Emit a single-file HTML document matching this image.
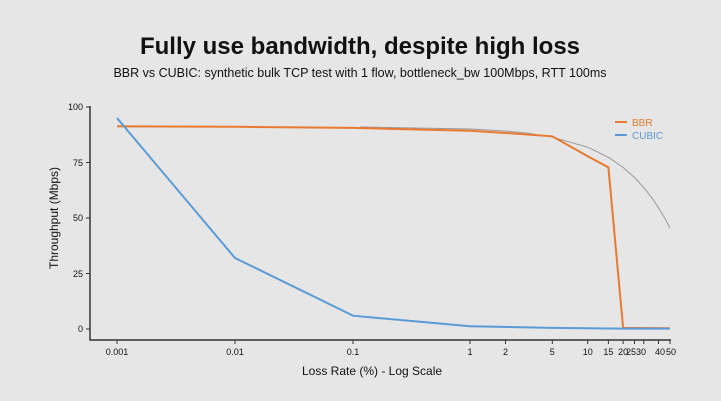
<!DOCTYPE html><html><head><style>
body{margin:0;background:#e6e6e6;}
svg{display:block;font-family:"Liberation Sans",sans-serif;}
</style></head><body>
<svg width="721" height="401" viewBox="0 0 721 401">
<rect width="721" height="401" fill="#e6e6e6"/>
<text x="360" y="54" text-anchor="middle" font-size="24" font-weight="bold" fill="#111">Fully use bandwidth, despite high loss</text>
<text x="360" y="77" text-anchor="middle" font-size="12.5" fill="#111">BBR vs CUBIC: synthetic bulk TCP test with 1 flow, bottleneck_bw 100Mbps, RTT 100ms</text>
<g stroke="#333" stroke-width="1.5" fill="none">
<path d="M90,106 V340 H671"/>
</g>
<g stroke="#333" stroke-width="1">
<path d="M86,107H90M86,162.5H90M86,218H90M86,273.5H90M86,329H90"/>
<path d="M117,340v4M235,340v4M353,340v4M470,340v4M505.5,340v4M552.3,340v4M587.7,340v4M608.4,340v4M623.1,340v4M634.5,340v4M643.8,340v4M658.5,340v4M670,340v4"/>
</g>
<g font-size="9" fill="#111" text-anchor="end">
<text x="83" y="110">100</text><text x="83" y="166">75</text><text x="83" y="221">50</text><text x="83" y="277">25</text><text x="83" y="332">0</text>
</g>
<g font-size="9" fill="#111" text-anchor="middle">
<text x="117" y="355">0.001</text><text x="235" y="355">0.01</text><text x="353" y="355">0.1</text><text x="470" y="355">1</text><text x="505.5" y="355">2</text><text x="552.3" y="355">5</text><text x="587.7" y="355">10</text><text x="608.4" y="355">15</text><text x="623.1" y="355">20</text><text x="636" y="355">2530</text><text x="660" y="355">40</text><text x="671" y="355">50</text>
</g>
<text x="372" y="375" text-anchor="middle" font-size="12" fill="#111">Loss Rate (%) - Log Scale</text>
<text transform="translate(58,218) rotate(-90)" text-anchor="middle" font-size="12" fill="#111">Throughput (Mbps)</text>
<polyline points="360,127 470,129 505.5,131 526.2,133 552.3,137.1 587.7,147.2 608.4,157.3 623.1,167.4 634.5,177.5 643.8,187.6 651.7,197.7 658.5,207.8 664.6,217.9 670,228" fill="none" stroke="#999" stroke-width="1" stroke-linejoin="round"/>
<polyline points="117,126.3 235,126.8 353,127.9 470,130.8 505.5,133 552.3,136.3 587.7,156.3 608.4,167.4 623.1,327.9 670,328.3" fill="none" stroke="#e8792f" stroke-width="2"/>
<polyline points="117,118 235,258 353,315.7 470,326.3 552.3,327.9 623.1,328.6 670,328.6" fill="none" stroke="#5b9bd5" stroke-width="2"/>
<line x1="615" y1="122" x2="627" y2="122" stroke="#e8792f" stroke-width="2"/>
<text x="632" y="126" font-size="10" fill="#e8792f">BBR</text>
<line x1="615" y1="135" x2="627" y2="135" stroke="#5b9bd5" stroke-width="2"/>
<text x="632" y="139" font-size="10" fill="#5b9bd5">CUBIC</text>
</svg>
</body></html>
